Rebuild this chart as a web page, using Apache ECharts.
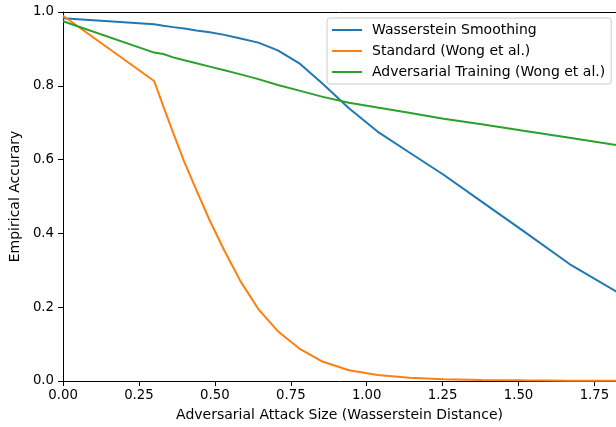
<!DOCTYPE html>
<html>
<head>
<meta charset="utf-8">
<script src="https://cdn.jsdelivr.net/npm/echarts@6/dist/echarts.min.js"></script>
<style>
html,body{margin:0;padding:0;background:#fff;}
#chart{width:616px;height:427px;}
</style>
</head>
<body>
<div id="chart"></div>
<script>
// Attack sizes (Wasserstein distance)
var attackSizes = [0, 0.3, 0.33, 0.363, 0.3993, 0.4392, 0.4832, 0.5315, 0.5846, 0.6431, 0.7074, 0.7781, 0.8559, 0.9415, 1.0357, 1.1393, 1.2532, 1.3785, 1.5164, 1.6680, 1.8348];
var wassersteinSmoothing = [0.983, 0.967, 0.963, 0.959, 0.955, 0.950, 0.945, 0.938, 0.928, 0.917, 0.896, 0.861, 0.805, 0.739, 0.676, 0.620, 0.559, 0.486, 0.406, 0.317, 0.236];
var standardWong = [0.990, 0.813, 0.745, 0.672, 0.594, 0.517, 0.435, 0.353, 0.270, 0.195, 0.135, 0.088, 0.052, 0.029, 0.016, 0.009, 0.005, 0.003, 0.002, 0.001, 0.001];
var adversarialWong = [0.975, 0.890, 0.886, 0.877, 0.869, 0.861, 0.852, 0.842, 0.831, 0.818, 0.802, 0.787, 0.770, 0.754, 0.741, 0.727, 0.711, 0.696, 0.678, 0.659, 0.638];
var seriesNames = ['Wasserstein Smoothing', 'Standard (Wong et al.)', 'Adversarial Training (Wong et al.)'];
var xTicks = [0, 0.25, 0.5, 0.75, 1.0, 1.25, 1.5, 1.75];
var yTicks = [0, 0.2, 0.4, 0.6, 0.8, 1.0];
var xLabel = 'Adversarial Attack Size (Wasserstein Distance)';
var yLabel = 'Empirical Accurary';

function pairs(xs, ys) { return xs.map(function (x, i) { return [x, ys[i]]; }); }

var font = 'DejaVu Sans';
var chart = echarts.init(document.getElementById('chart'), null, {renderer: 'canvas'});
chart.setOption({
  animation: false,
  backgroundColor: '#ffffff',
  textStyle: {fontFamily: font},
  grid: {left: 61, right: 0, top: 12, bottom: 45.5, containLabel: false},
  legend: {
    orient: 'vertical',
    left: 327,
    top: 18,
    padding: [5, 6, 5, 5],
    itemWidth: 30,
    itemHeight: 14,
    itemGap: 7,
    backgroundColor: 'rgba(255,255,255,0.8)',
    borderColor: '#cccccc',
    borderWidth: 1,
    borderRadius: 3,
    textStyle: {fontFamily: font, fontSize: 14, color: '#000', padding: [0, 0, 0, 5]},
    data: seriesNames.map(function (n) { return {name: n, icon: 'path://M0,0L30,0L30,2L0,2Z'}; })
  },
  xAxis: [{
    type: 'value',
    min: 0,
    max: 1.821,
    name: xLabel,
    nameLocation: 'middle',
    nameGap: 27,
    nameTextStyle: {fontFamily: font, fontSize: 14, color: '#000'},
    axisLine: {show: true, onZero: false, lineStyle: {color: '#000', width: 1}},
    axisTick: {show: true, length: 5, inside: false, customValues: xTicks, lineStyle: {color: '#000', width: 1}},
    axisLabel: {customValues: xTicks, margin: 8, fontFamily: font, fontSize: 13.3, color: '#000',
      formatter: function (v) { return v.toFixed(2); }},
    splitLine: {show: false}
  }, {
    type: 'value',
    position: 'top',
    min: 0,
    max: 1.821,
    axisLine: {show: true, onZero: false, lineStyle: {color: '#000', width: 1}},
    axisTick: {show: false},
    axisLabel: {show: false},
    splitLine: {show: false}
  }],
  yAxis: {
    type: 'value',
    min: 0,
    max: 1,
    interval: 0.2,
    name: yLabel,
    nameLocation: 'middle',
    nameGap: 40,
    nameTextStyle: {fontFamily: font, fontSize: 14, color: '#000'},
    axisLine: {show: true, onZero: false, lineStyle: {color: '#000', width: 1}},
    axisTick: {show: true, length: 5, lineStyle: {color: '#000', width: 1}},
    axisLabel: {margin: 9, fontFamily: font, fontSize: 13.3, color: '#000',
      formatter: function (v) { return v.toFixed(1); }},
    splitLine: {show: false}
  },
  series: [
    {name: seriesNames[0], type: 'line', symbol: 'none', clip: true, color: '#1f77b4',
      lineStyle: {width: 2, color: '#1f77b4'}, data: pairs(attackSizes, wassersteinSmoothing)},
    {name: seriesNames[1], type: 'line', symbol: 'none', clip: true, color: '#ff7f0e',
      lineStyle: {width: 2, color: '#ff7f0e'}, data: pairs(attackSizes, standardWong)},
    {name: seriesNames[2], type: 'line', symbol: 'none', clip: true, color: '#2ca02c',
      lineStyle: {width: 2, color: '#2ca02c'}, data: pairs(attackSizes, adversarialWong)}
  ]
});
</script>
</body>
</html>
